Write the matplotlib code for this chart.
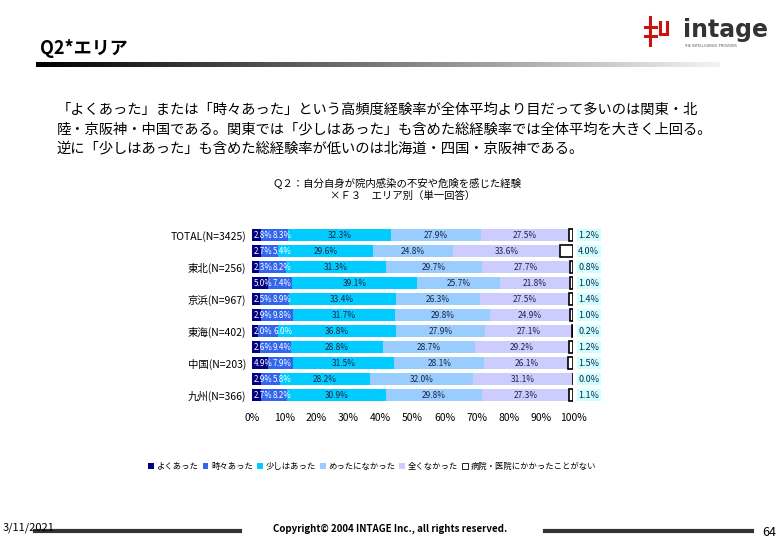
import matplotlib
matplotlib.use('Agg')
import matplotlib.pyplot as plt
import numpy as np
from matplotlib.patches import Patch
from matplotlib.lines import Line2D

plt.rcParams['font.family'] = ['Noto Sans CJK JP', 'DejaVu Sans']

# 各エリアの回答割合(%)
tick_labels = ['TOTAL(N=3425)', '', '東北(N=256)', '', '京浜(N=967)', '',
               '東海(N=402)', '', '中国(N=203)', '', '九州(N=366)']
yoku = [2.8, 2.7, 2.3, 5.0, 2.5, 2.9, 2.0, 2.6, 4.9, 2.9, 2.7]
tokidoki = [8.3, 5.4, 8.2, 7.4, 8.9, 9.8, 6.0, 9.4, 7.9, 5.8, 8.2]
sukoshi = [32.3, 29.6, 31.3, 39.1, 33.4, 31.7, 36.8, 28.8, 31.5, 28.2, 30.9]
metta = [27.9, 24.8, 29.7, 25.7, 26.3, 29.8, 27.9, 28.7, 28.1, 32.0, 29.8]
mattaku = [27.5, 33.6, 27.7, 21.8, 27.5, 24.9, 27.1, 29.2, 26.1, 31.1, 27.3]
nai = [1.2, 4.0, 0.8, 1.0, 1.4, 1.0, 0.2, 1.2, 1.5, 0.0, 1.1]

series_names = ['よくあった', '時々あった', '少しはあった', 'めったになかった', '全くなかった',
                '病院・医院にかかったことがない']
colors = ['#000080', '#3366ee', '#00ccff', '#99ccff', '#ccccff', '#ffffff']
text_colors = ['white', 'white', '#222244', '#222244', '#222244', '#222244']

W, H = 780, 540
fig = plt.figure(figsize=(7.8, 5.4), dpi=100)


def fx(px):
    return px / W


def fy(py):
    return 1 - py / H


# ページタイトルとグラデーション線
fig.text(fx(40), fy(48), 'Q2*エリア', fontsize=13, fontweight='bold', va='center', ha='left')
gax = fig.add_axes([fx(36), fy(67), fx(720 - 36), 5 / H])
gax.imshow(np.linspace(0, 1, 256).reshape(1, -1), cmap='gray', aspect='auto', vmin=0, vmax=1.05)
gax.axis('off')

# ロゴ
fig.text(fx(683), fy(30), 'intage', fontsize=17, fontweight='bold', color='#333333',
         va='center', ha='left', family='DejaVu Sans')
fig.text(fx(684), fy(46), 'THE INTELLIGENCE PROVIDER', fontsize=2.5, color='#555555',
         va='center', ha='left', family='DejaVu Sans')
red = '#cc1111'
for xs, ys in [([650, 650], [17, 45]), ([645, 656], [27, 27]), ([645, 656], [36, 36]),
               ([660, 660], [22, 34]), ([667, 667], [22, 34]), ([660, 667], [34, 34])]:
    fig.add_artist(Line2D([fx(x) for x in xs], [fy(y) for y in ys], color=red, lw=2.2))

# 本文
lines = ['「よくあった」または「時々あった」という高頻度経験率が全体平均より目だって多いのは関東・北',
         '陸・京阪神・中国である。関東では「少しはあった」も含めた総経験率では全体平均を大きく上回る。',
         '逆に「少しはあった」も含めた総経験率が低いのは北海道・四国・京阪神である。']
for i, t in enumerate(lines):
    fig.text(fx(57), fy(110 + i * 19), t, fontsize=10.3, va='center', ha='left')

# グラフタイトル
fig.text(fx(272), fy(183), 'Ｑ２：自分自身が院内感染の不安や危険を感じた経験', fontsize=7.5,
         va='center', ha='left')
fig.text(fx(330), fy(196), '×Ｆ３　エリア別（単一回答）', fontsize=7.5, va='center', ha='left')

# 帯グラフ
ax = fig.add_axes([fx(252), fy(403), fx(321), 176 / H])
data = [yoku, tokidoki, sukoshi, metta, mattaku, nai]
y = np.arange(len(tick_labels))
left = np.zeros(len(tick_labels))
for k, vals in enumerate(data):
    vals = np.array(vals)
    if k == 5:
        ax.barh(y, vals, left=left, height=0.8, color=colors[k], edgecolor='black', linewidth=1.2)
        for yi, v in zip(y, vals):
            ax.text(101.6, yi, '%.1f%%' % v, fontsize=6.5, va='center', ha='left', color='#222244',
                    bbox=dict(facecolor='#ccffff', edgecolor='none', pad=1.2), clip_on=False)
    else:
        ax.barh(y, vals, left=left, height=0.8, color=colors[k], edgecolor='none')
        for yi, v, l in zip(y, vals, left):
            if k == 0:
                ax.annotate('%.1f%%' % v, xy=(0, yi), xytext=(2, 0), textcoords='offset pixels',
                            fontsize=5.8, va='center', ha='left', color=text_colors[k])
            elif k == 1:
                # 細い区間のラベルは前のラベルの直後に並べる
                ax.annotate('%.1f%%' % v, xy=(0, yi), xytext=(21, 0), textcoords='offset pixels',
                            fontsize=5.8, va='center', ha='left', color=text_colors[k])
            else:
                ax.text(l + v / 2, yi, '%.1f%%' % v, fontsize=6, va='center', ha='center',
                        color=text_colors[k])
    left = left + vals

ax.set_xlim(0, 100)
ax.set_ylim(len(tick_labels) - 0.5, -0.5)
ax.set_xticks(range(0, 101, 10))
ax.set_xticklabels(['%d%%' % v for v in range(0, 101, 10)], fontsize=7.5)
ax.set_yticks(y)
ax.set_yticklabels(tick_labels, fontsize=7.5)
ax.tick_params(length=0, pad=4)
ax.tick_params(axis='x', pad=7)
for s in ax.spines.values():
    s.set_visible(False)

handles = [Patch(facecolor=colors[k], edgecolor='black' if k == 5 else 'none', linewidth=0.6)
           for k in range(6)]
fig.legend(handles, series_names, loc='center', bbox_to_anchor=(fx(372), fy(466)), ncol=6,
           fontsize=6, frameon=False, handlelength=0.7, handleheight=0.7,
           handletextpad=0.3, columnspacing=0.5)

# フッター
fig.text(fx(3), fy(528), '3/11/2021', fontsize=8, va='center', ha='left')
fig.add_artist(Line2D([fx(35), fx(240)], [fy(531), fy(531)], color='#333333', lw=3))
fig.add_artist(Line2D([fx(545), fx(752)], [fy(531), fy(531)], color='#333333', lw=3))
fig.text(fx(390), fy(529), 'Copyright© 2004 INTAGE Inc., all rights reserved.', fontsize=7,
         fontweight='bold', va='center', ha='center')
fig.text(fx(762), fy(533), '64', fontsize=9, va='center', ha='left')

fig.savefig('out.png', dpi=100)
